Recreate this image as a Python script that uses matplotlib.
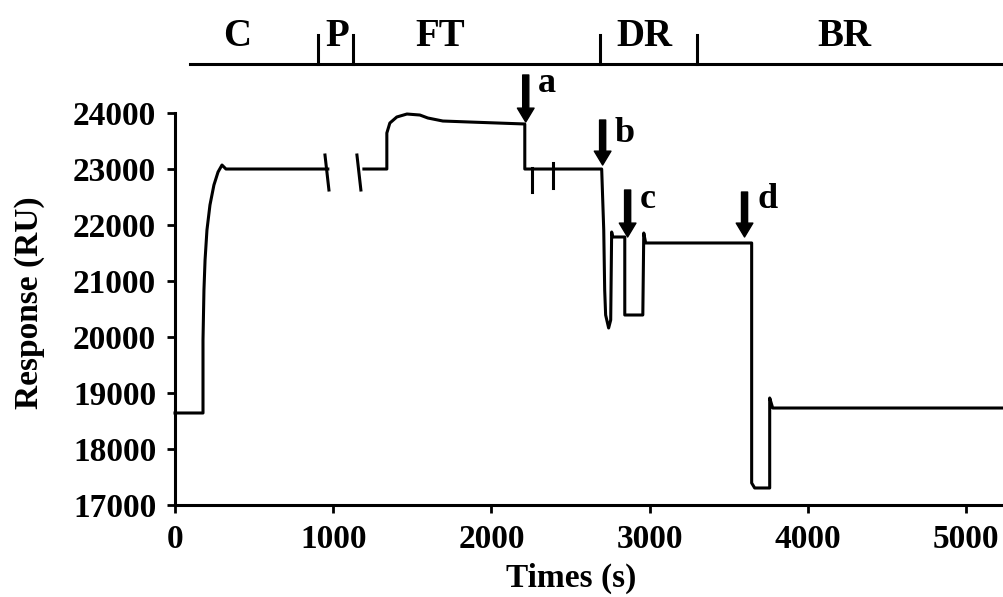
import matplotlib
matplotlib.use('Agg')
import matplotlib.pyplot as plt
import numpy as np

# Sensorgram trace (time in s, response in RU), NaN = break in the trace
time_s = [0, 177, 177, 183, 190, 202, 221, 246, 272, 297, 322, 966, np.nan,
          1194, 1339, 1339, 1358, 1402, 1466, 1548, 1598, 1693, 1864, 2211,
          2211, 2697, 2710, 2716, 2722, 2741, 2754, 2760, 2767, 2843,
          2843, 2957, 2963, 2975, 3645,
          3645, 3664, 3759, 3759, 3778, 5240]
response = [18643, 18643, 19946, 20839, 21375, 21911, 22357, 22714, 22946, 23071, 23000, 23000, np.nan,
            23000, 23000, 23643, 23821, 23929, 23982, 23964, 23911, 23857, 23839, 23804,
            23000, 23000, 21911, 20839, 20393, 20161, 20304, 21875, 21786, 21786,
            20393, 20393, 21857, 21679, 21679,
            17393, 17304, 17304, 18911, 18732, 18732]

# break marks in the P phase and small marks after injection a
break_t = [(948, 973), (1150, 1175)]
break_ru = (23250, 22625)
mark_t = [2255, 2388]
mark_ru = [(23018, 22589), (23110, 22660)]

# injection arrows
arrow_lbl = ['a', 'b', 'c', 'd']
arrow_t = [2217, 2703, 2861, 3600]
arrow_top = [24679, 23875, 22625, 22589]
arrow_tip = [23839, 23071, 21786, 21786]
lbl_t = [2349, 2845, 2988, 3745]
lbl_ru = [24375, 23482, 22304, 22304]

# phases on top
phase_names = ['C', 'P', 'FT', 'DR', 'BR']
phase_pos = [392, 1023, 1674, 2969, 4233]
phase_edges = [903, 1124, 2685, 3298]

fnt = 'Liberation Serif'

fig = plt.figure(figsize=(10.04, 5.97), dpi=100)
ax = fig.add_axes([0.1743, 0.1541, 0.8257, 0.6566])

ax.plot(time_s, response, color='k', lw=2.2, clip_on=False)
for (t0, t1) in break_t:
    ax.plot([t0, t1], break_ru, color='k', lw=2.2)
for t, (r0, r1) in zip(mark_t, mark_ru):
    ax.plot([t, t], [r0, r1], color='k', lw=2.2)

for lb, t, top, tip, lt, lr in zip(arrow_lbl, arrow_t, arrow_top, arrow_tip, lbl_t, lbl_ru):
    ax.annotate('', xy=(t, tip), xytext=(t, top), annotation_clip=False,
                arrowprops=dict(arrowstyle='simple,head_length=0.5,head_width=0.6,tail_width=0.22',
                                fc='k', ec='k', shrinkA=0, shrinkB=0, mutation_scale=20))
    ax.text(lt, lr, lb, fontfamily=fnt, fontweight='bold', fontsize=26,
            ha='center', va='baseline', clip_on=False)

# phase bar
bar_y = 24875
ax.plot([95, 5240], [bar_y, bar_y], color='k', lw=2.2, clip_on=False)
for e in phase_edges:
    ax.plot([e, e], [bar_y, 25400], color='k', lw=2.2, clip_on=False)
for nm, p in zip(phase_names, phase_pos):
    ax.text(p, 25360, nm, fontfamily=fnt, fontweight='bold', fontsize=28,
            ha='center', va='center', clip_on=False)

ax.set_xlim(0, 5240)
ax.set_ylim(17000, 24000)
ax.set_xticks([0, 1000, 2000, 3000, 4000, 5000])
ax.set_yticks(range(17000, 24001, 1000))
for s in ['top', 'right']:
    ax.spines[s].set_visible(False)
for s in ['left', 'bottom']:
    ax.spines[s].set_linewidth(2.2)
ax.tick_params(direction='out', length=5.5, width=2, pad=8)
for lbl in ax.get_xticklabels() + ax.get_yticklabels():
    lbl.set_fontfamily(fnt)
    lbl.set_fontweight('bold')
    lbl.set_fontsize(24)

fig.text(571 / 1004, 1 - 578 / 597, 'Times (s)', fontfamily=fnt, fontweight='bold',
         fontsize=24, ha='center', va='center')
fig.text(30 / 1004, 1 - 303 / 597, 'Response (RU)', fontfamily=fnt, fontweight='bold',
         fontsize=24, ha='center', va='center', rotation=90)

fig.savefig('out.png', dpi=100)
